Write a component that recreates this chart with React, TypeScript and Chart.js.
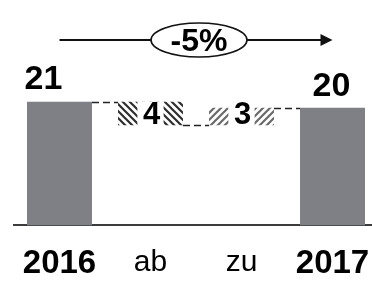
import React, { useEffect, useRef } from "react";
import { Chart, registerables } from "chart.js";

Chart.register(...registerables);

const categories = ["2016", "ab", "zu", "2017"];
const startValue = 21;
const changes = [-4, 3];
const endValue = 20;
const changeLabels = ["4", "3"];
const percentLabel = "-5%";
const yMax = 31.5;

const BAR_GRAY = "#7e8085";

function makeHatch(dir: number, color: string) {
  const s = 7;
  const c = document.createElement("canvas");
  c.width = s;
  c.height = s;
  const g = c.getContext("2d")!;
  g.strokeStyle = color;
  g.lineWidth = 2.2;
  g.beginPath();
  if (dir > 0) {
    g.moveTo(0, s); g.lineTo(s, 0);
    g.moveTo(-s / 2, s / 2); g.lineTo(s / 2, -s / 2);
    g.moveTo(s / 2, s * 1.5); g.lineTo(s * 1.5, s / 2);
  } else {
    g.moveTo(0, 0); g.lineTo(s, s);
    g.moveTo(-s / 2, s / 2); g.lineTo(s / 2, s * 1.5);
    g.moveTo(s / 2, -s / 2); g.lineTo(s * 1.5, s / 2);
  }
  g.stroke();
  return g.createPattern(c, "repeat")!;
}

export default function App() {
  const ref = useRef<HTMLCanvasElement>(null);
  useEffect(() => {
    const canvas = ref.current!;
    const ranges: [number, number][] = [[0, startValue]];
    let run = startValue;
    changes.forEach((d) => {
      const next = run + d;
      ranges.push([Math.min(run, next), Math.max(run, next)]);
      run = next;
    });
    ranges.push([0, endValue]);
    const levels = [startValue, startValue + changes[0], endValue];

    const hatchA = makeHatch(-1, "#2e2e2e");
    const hatchB = makeHatch(1, "#6a6a6a");
    const fills = [BAR_GRAY, hatchA, hatchB, BAR_GRAY];

    const overlay = {
      id: "overlay",
      afterDatasetsDraw(chart: any) {
        const ctx = chart.ctx;
        const meta = chart.getDatasetMeta(0);
        const ys = chart.scales.y;
        const bars = meta.data;
        ctx.save();
        ctx.strokeStyle = "#222";
        ctx.lineWidth = 1.5;
        ctx.setLineDash([7, 4]);
        for (let i = 0; i < bars.length - 1; i++) {
          const a = bars[i];
          const b = bars[i + 1];
          const y = Math.round(ys.getPixelForValue(levels[i])) + 0.5;
          ctx.beginPath();
          ctx.moveTo(a.x + a.width / 2, y);
          ctx.lineTo(b.x - b.width / 2, y);
          ctx.stroke();
        }
        ctx.setLineDash([]);
        ctx.fillStyle = "#000";
        ctx.textAlign = "center";
        ctx.textBaseline = "alphabetic";
        ctx.font = "bold 34px 'Liberation Sans', Arial, sans-serif";
        ctx.fillText(String(startValue), bars[0].x - 16, bars[0].y - 13);
        ctx.fillText(String(endValue), bars[3].x - 1, bars[3].y - 12);
        ctx.font = "bold 31px 'Liberation Sans', Arial, sans-serif";
        ctx.textBaseline = "middle";
        const first = bars[1];
        const cy = (first.y + first.base) / 2 + 1;
        [1, 2].forEach((i, k) => {
          const bar = bars[i];
          const w = ctx.measureText(changeLabels[k]).width + 9;
          ctx.fillStyle = "#fff";
          ctx.fillRect(bar.x - w / 2, cy - 13, w, 26);
          ctx.fillStyle = "#000";
          ctx.fillText(changeLabels[k], bar.x + 1, cy + 1);
        });
        const top = chart.chartArea.top;
        const x0 = bars[0].x;
        const x1 = bars[3].x;
        ctx.strokeStyle = "#111";
        ctx.lineWidth = 2;
        ctx.beginPath();
        ctx.moveTo(x0, top);
        ctx.lineTo(x1 - 10, top);
        ctx.stroke();
        ctx.fillStyle = "#111";
        ctx.beginPath();
        ctx.moveTo(x1, top);
        ctx.lineTo(x1 - 12, top - 6);
        ctx.lineTo(x1 - 12, top + 6);
        ctx.closePath();
        ctx.fill();
        const cx = (bars[1].x + bars[2].x) / 2 + 3;
        ctx.beginPath();
        ctx.ellipse(cx, top, 48, 17, 0, 0, Math.PI * 2);
        ctx.fillStyle = "#fff";
        ctx.fill();
        ctx.lineWidth = 1.6;
        ctx.stroke();
        ctx.fillStyle = "#000";
        ctx.font = "bold 32px 'Liberation Sans', Arial, sans-serif";
        ctx.textBaseline = "middle";
        ctx.fillText(percentLabel, cx, top + 2);
        ctx.restore();
      },
    };

    const chart = new Chart(canvas, {
      type: "bar",
      data: {
        labels: categories,
        datasets: [
          {
            data: ranges as any,
            backgroundColor: fills as any,
            borderWidth: 0,
            barPercentage: 1,
            categoryPercentage: 0.714,
          },
        ],
      },
      options: {
        responsive: false,
        animation: false,
        layout: { padding: { left: 14, right: 2, top: 40, bottom: 2 } },
        plugins: { legend: { display: false }, tooltip: { enabled: false } },
        scales: {
          x: {
            grid: { display: false, drawTicks: false },
            border: { display: true, color: "#3c3c3c", width: 2 },
            afterFit: (s: any) => {
              s.paddingLeft = 0;
              s.paddingRight = 0;
            },
            ticks: {
              padding: 19,
              color: "#000",
              font: (c: any) =>
                c.index === 0 || c.index === 3
                  ? { family: "'Liberation Sans', Arial, sans-serif", size: 33, weight: "bold" }
                  : { family: "'Liberation Sans', Arial, sans-serif", size: 30, weight: "normal" },
            },
          },
          y: {
            display: false,
            min: 0,
            max: yMax,
          },
        },
      },
      plugins: [overlay],
    });
    return () => chart.destroy();
  }, []);
  return (
    <div style={{ position: "fixed", left: 0, top: 0, width: 372, height: 286, overflow: "hidden", background: "#fff" }}>
      <canvas ref={ref} width={380} height={305} style={{ display: "block", width: 380, height: 305 }} />
    </div>
  );
}
